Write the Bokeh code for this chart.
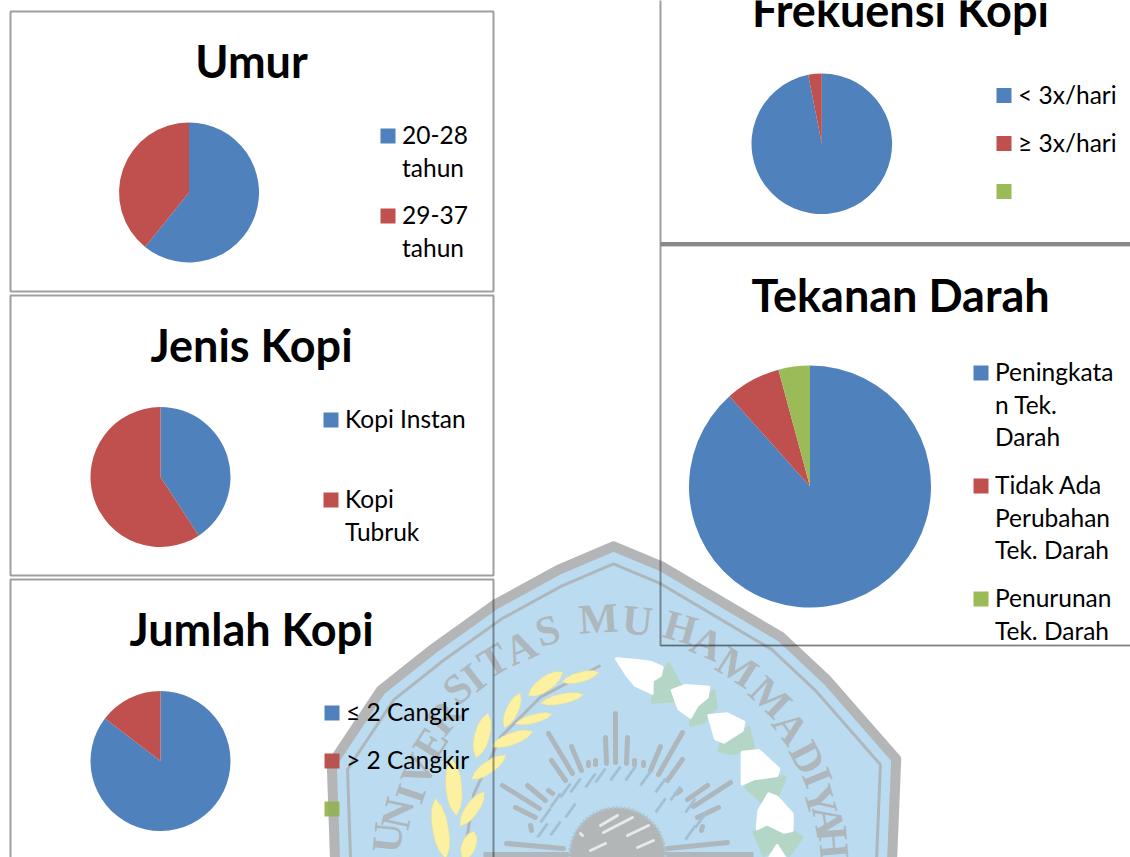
import math
from bokeh.plotting import figure
from bokeh.models import Range1d
from bokeh.core.properties import value
from bokeh.embed import file_html
from bokeh.resources import INLINE

W, H = 1130, 857
BLUE, RED, GREEN = "#4f81bd", "#c0504d", "#9bbb59"
COLORS = [BLUE, RED, GREEN]

# ---- chart data
umur_labels = [["20-28", "tahun"], ["29-37", "tahun"]]
umur_values = [60.8, 39.2]
jenis_labels = [["Kopi Instan"], ["Kopi", "Tubruk"]]
jenis_values = [40.8, 59.2]
jumlah_labels = [["≤ 2 Cangkir"], ["> 2 Cangkir"], [""]]
jumlah_values = [85.4, 14.6]
frek_labels = [["< 3x/hari"], ["≥ 3x/hari"], [""]]
frek_values = [96.9, 3.1]
tekanan_labels = [["Peningkata", "n Tek.", "Darah"], ["Tidak Ada", "Perubahan", "Tek. Darah"], ["Penurunan", "Tek. Darah"]]
tekanan_values = [88.4, 7.4, 4.2]

p = figure(width=W, height=H, x_range=Range1d(0, W), y_range=Range1d(0, H),
           x_axis_type=None, y_axis_type=None, toolbar_location=None,
           output_backend="svg", min_border=0, outline_line_color=None,
           margin=(0, 0, 0, 0))
p.grid.visible = False


def Y(py):
    return H - py


def zx(x):
    return 430 + x / 3


def zy(y):
    return 530 + y / 3


# ---- watermark
outer = [(613, 541), (663, 562), (783, 633), (830, 677), (900, 757), (895, 880),
         (331, 880), (327, 762), (377, 687), (430, 645), (493, 600), (557, 565)]
CX, CY = 613, 860


def scaled(k):
    return ([CX + (x - CX) * k for x, _ in outer], [Y(CY + (y - CY) * k) for _, y in outer])


WM_BLUE, WM_GRAY, WM_BAND = "#bbdcf0", "#adb7bc", "#bcbfc0"
xs, ys = scaled(0.985)
p.patch(xs, ys, fill_color=WM_BLUE, line_color=WM_BAND, line_width=10, line_join="round")
xs, ys = scaled(0.93)
p.patch(xs, ys, fill_color=None, line_color=WM_GRAY, line_width=3)

letters = [("U", 387, 837), ("N", 397, 813), ("I", 410, 793), ("V", 418, 770), ("E", 430, 743),
           ("R", 443, 717), ("S", 457, 688), ("I", 473, 677), ("T", 493, 660), ("A", 520, 647),
           ("S", 547, 630), ("M", 598, 618), ("U", 637, 620), ("H", 680, 627), ("A", 707, 643),
           ("M", 737, 667), ("M", 770, 697), ("A", 790, 727), ("D", 807, 757), ("I", 817, 777),
           ("Y", 820, 800), ("A", 828, 820), ("H", 833, 842)]
for ch, x, y in letters:
    p.text([x], [Y(y)], text=[ch], angle=math.atan2(CX - x, CY - y),
           text_font=value("Liberation Serif"), text_font_style="bold", text_font_size="42px",
           text_color=WM_GRAY, text_align="center", text_baseline="middle")

# wheat: centre x, centre y, length, width, angle (in 3x crop units)
leaves = [(345, 460, 110, 35, 35), (450, 440, 100, 25, 15), (245, 540, 100, 30, 65), (395, 505, 115, 25, 12),
          (310, 565, 100, 22, 15), (155, 615, 120, 38, 75), (245, 625, 115, 30, 20), (175, 710, 110, 30, 35),
          (70, 770, 150, 40, 95), (125, 835, 110, 32, 55), (30, 895, 160, 40, 100), (115, 945, 80, 35, 70)]
p.line([zx(v) for v in (100, 130, 210, 330, 510)], [Y(zy(v)) for v in (981, 790, 620, 500, 405)],
       line_color=WM_GRAY, line_width=3)
leaf_t = [-1, -0.7, -0.35, 0, 0.35, 0.7, 1, 0.7, 0.35, 0, -0.35, -0.7]
leaf_w = [0, 0.65, 0.95, 1, 0.95, 0.65, 0, -0.65, -0.95, -1, -0.95, -0.65]
for cx, cy, ln, wd, ang in leaves:
    c, s = math.cos(math.radians(ang)), math.sin(math.radians(ang))
    hl, hw = ln / 3 * 0.58, wd / 3 * 0.6
    p.patch([zx(cx) + t * hl * c - w * hw * s for t, w in zip(leaf_t, leaf_w)],
            [Y(zy(cy)) + t * hl * s + w * hw * c for t, w in zip(leaf_t, leaf_w)],
            fill_color="#fbf1a0", line_color="#dcdca6", line_width=0.6)

# sun rays (px end points)
rays = [(615, 713, 615, 762), (605, 737, 606, 763), (627, 737, 626, 763), (548, 733, 572, 773),
        (682, 732, 658, 774), (571, 746, 581, 770), (660, 746, 650, 770), (551, 760, 565, 780),
        (682, 759, 667, 780), (502, 785, 539, 808), (730, 782, 693, 806), (527, 785, 545, 800),
        (707, 785, 687, 799), (515, 807, 535, 817), (718, 807, 697, 817), (506, 843, 563, 848),
        (727, 842, 667, 848), (588, 762, 588, 765), (595, 760, 595, 764), (634, 760, 634, 764),
        (643, 762, 643, 765), (548, 790, 552, 793), (680, 790, 676, 793), (530, 825, 531, 830),
        (702, 826, 701, 830)]
p.multi_line([[a, c] for a, _, c, _ in rays], [[Y(b), Y(d)] for _, b, _, d in rays],
             line_color=WM_GRAY, line_width=5, line_cap="round")
p.line([483, 753], [Y(854), Y(854)], line_color=WM_GRAY, line_width=5)

# calligraphy ring and medallion
marks = [(555, 800), (565, 790), (575, 785), (590, 780), (600, 775), (615, 773), (630, 773), (645, 778), (660, 785),
         (675, 793), (545, 815), (690, 805), (542, 830), (700, 820), (555, 828), (690, 832), (570, 810), (660, 805)]
p.multi_line([[x - 5, x + 5] for x, _ in marks], [[Y(y + 7), Y(y - 7)] for _, y in marks],
             line_color="#a3c0d2", line_width=3)
p.circle([617], [Y(855)], radius=48, fill_color="#b3b6b7", line_color="#aec5d2", line_width=3, line_dash="2 2")
strokes = [(603, 832, 632, 817), (600, 825, 617, 815), (627, 835, 648, 825), (637, 847, 653, 840),
           (580, 833, 582, 835), (590, 850, 605, 843)]
p.multi_line([[a, c] for a, _, c, _ in strokes], [[Y(b), Y(d)] for _, b, _, d in strokes],
             line_color="#e6eaec", line_width=3, line_cap="round")

# islands (3x crop units)
isl_white = [
    [(558, 385), (620, 390), (660, 395), (695, 410), (690, 435), (665, 450), (665, 488), (615, 465), (590, 435)],
    [(725, 480), (765, 465), (835, 470), (830, 500), (800, 525), (780, 560), (745, 535)],
    [(835, 555), (890, 550), (940, 575), (935, 600), (880, 635), (855, 625)],
    [(935, 665), (985, 660), (1045, 715), (1040, 735), (970, 745), (935, 760)],
    [(1015, 790), (1040, 800), (1085, 850), (1085, 900), (1060, 905), (1010, 880), (980, 895), (985, 840)],
    [(1015, 985), (1040, 945), (1065, 985)],
]
isl_green = [
    [(715, 400), (750, 465), (725, 480), (745, 510), (665, 515), (675, 450), (695, 430)],
    [(850, 480), (858, 530), (820, 575), (780, 585), (785, 540), (830, 500)],
    [(955, 590), (970, 655), (900, 670), (865, 660), (875, 625), (935, 610)],
    [(1065, 740), (1040, 800), (1010, 830), (945, 770), (975, 745), (1035, 735)],
    [(1115, 920), (1075, 975), (1040, 950), (1000, 975), (970, 905), (1020, 885), (1060, 905), (1085, 900)],
]
for group, col in ((isl_green, "#b4d6c6"), (isl_white, "#ffffff")):
    p.patches([[zx(x) for x, _ in g] for g in group], [[Y(zy(y)) for _, y in g] for g in group],
              fill_color=col, line_color=col, line_width=3, line_join="round")

# ---- panels
panels = [(10, 11, 493, 291), (10, 295, 493, 575), (10, 579, 493, 880),
          (660, -20, 1150, 244), (660, 245, 1150, 645)]
p.quad(left=[a[0] for a in panels], right=[a[2] for a in panels],
       top=[Y(a[1]) for a in panels], bottom=[Y(a[3]) for a in panels],
       fill_color=None, line_color="#000000", line_alpha=0.38, line_width=2)
p.line([660, 1130], [Y(243.5), Y(243.5)], line_color="#888888", line_width=4)
p.line([660, 1130], [Y(645), Y(645)], line_color="#000000", line_alpha=0.2, line_width=1)

# this text baseline sits 0.4 em above where the backend places it
BASE_FIX = 0.4


# ---- pies, titles, legends
def pie(title, tx, tbase, labels, values, cx, cy, r, mx, my, row_gaps):
    total = sum(values)
    a = math.pi / 2
    starts, ends = [], []
    for v in values:
        b = a - 2 * math.pi * v / total
        starts.append(b)
        ends.append(a)
        a = b
    p.wedge([cx] * len(values), [Y(cy)] * len(values), radius=r, start_angle=starts, end_angle=ends,
            fill_color=COLORS[:len(values)], line_color=None)
    p.text([tx], [Y(tbase - BASE_FIX * TITLE_PX)], text=[title], text_font=value("Lato"), text_font_style="bold",
           text_font_size=f"{TITLE_PX}px", text_color="#000000", text_align="center", text_baseline="alphabetic")
    my_now = my
    for i, lines in enumerate(labels):
        p.quad(left=[mx], right=[mx + 15], top=[Y(my_now)], bottom=[Y(my_now + 15)],
               fill_color=COLORS[i], line_color=None)
        for j, line in enumerate(lines):
            if line:
                p.text([mx + 21.5], [Y(my_now + 16 + j * 32.5 - BASE_FIX * LEG_PX)], text=[line],
                       text_font=value("Lato"), text_font_size=f"{LEG_PX}px", text_color="#000000",
                       text_align="left", text_baseline="alphabetic")
        my_now += row_gaps[i] if i < len(row_gaps) else 48


TITLE_PX, LEG_PX = 45, 24.5
pie("Umur", 251, 78, umur_labels, umur_values, 188.5, 192, 70, 380, 128, [80])
pie("Jenis Kopi", 251, 362, jenis_labels, jenis_values, 160, 476.5, 70, 323, 412, [80])
pie("Jumlah Kopi", 251, 646, jumlah_labels, jumlah_values, 160, 760.5, 70, 324, 705, [48, 48])
pie("Frekuensi Kopi", 900, 27, frek_labels, frek_values, 821.3, 143.3, 70.3, 996, 87.5, [48, 48])
pie("Tekanan Darah", 900, 312, tekanan_labels, tekanan_values, 809.5, 486, 121, 973, 365, [113, 113])

# band tint over what lies on it
xs, ys = scaled(0.985)
p.patch(xs, ys, fill_color=None, line_color="#777777", line_alpha=0.12, line_width=10, line_join="round")

open("out.html", "w").write(file_html(p, INLINE))
